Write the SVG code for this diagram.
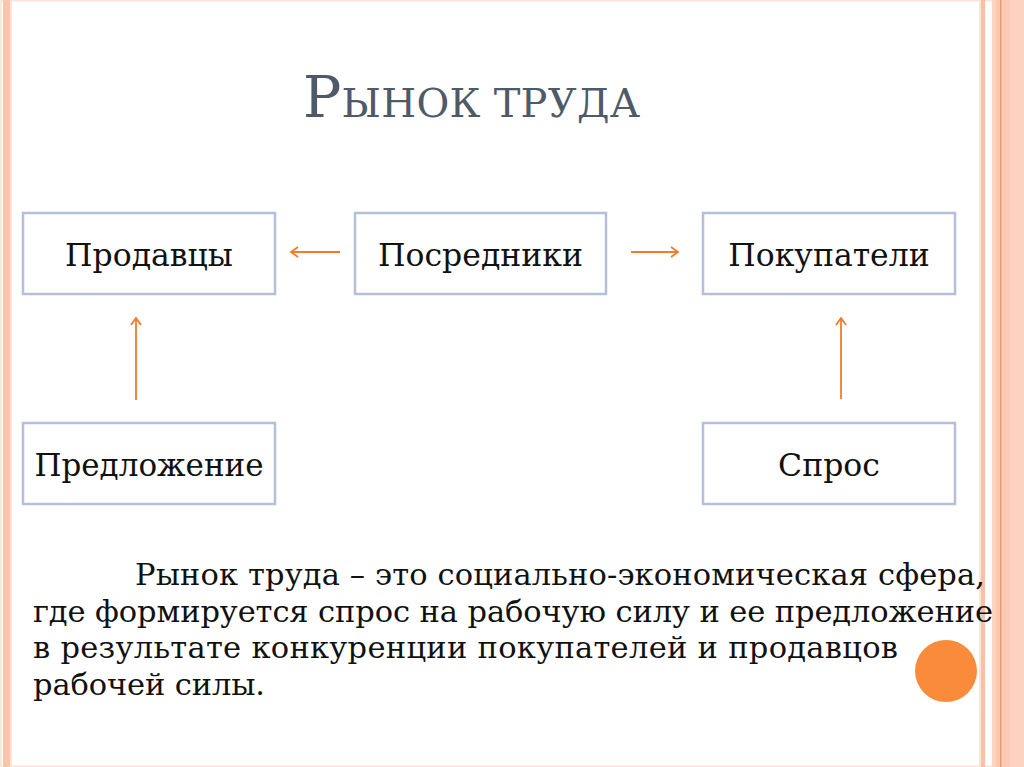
<svg xmlns="http://www.w3.org/2000/svg" width="1024" height="767" viewBox="0 0 1024 767">
<style>
.box{fill:#ffffff;stroke:#b4c0da;stroke-width:2.5}
.lbl{font-family:"DejaVu Serif","Liberation Serif",serif;font-size:31.5px;fill:#111111;text-anchor:middle}
.body{font-family:"DejaVu Serif","Liberation Serif",serif;font-size:30.5px;fill:#111111}
.title{font-family:"DejaVu Serif","Liberation Serif",serif;fill:#4f5a68}
.conn{stroke:#f47b2a;stroke-width:1.8;fill:none}
</style>
<defs>
<marker id="ah" markerWidth="12" markerHeight="12" refX="9" refY="6" orient="auto" markerUnits="userSpaceOnUse">
<path d="M2,1 L9,6 L2,11" fill="none" stroke="#f47b2a" stroke-width="1.8"/>
</marker>
</defs>
<rect x="0" y="0" width="1024" height="767" fill="#ffffff"/>
<g id="frame">
<rect x="0" y="0" width="1024" height="1.5" fill="#fde3d8"/>
<rect x="0" y="765.5" width="1024" height="1.5" fill="#fde3d8"/>
<rect x="0" y="0" width="2" height="767" fill="#fde6dc"/>
<rect x="3" y="0" width="7" height="767" fill="#fcc3ad"/>
<rect x="10" y="0" width="2" height="767" fill="#fde3d8"/>
<rect x="979" y="0" width="2" height="767" fill="#fde3d8"/>
<rect x="981" y="0" width="4" height="767" fill="#fbbfa6"/>
<rect x="992" y="0" width="32" height="767" fill="#fdd2c1"/>
<rect x="996" y="0" width="4" height="767" fill="#fcc7b1"/>
<rect x="1000" y="0" width="1.5" height="767" fill="#ef9a6c"/>
<rect x="1003" y="0" width="7" height="767" fill="#fcc9b4"/>
</g>
<g id="title">
<text class="title" x="303" y="117" textLength="337"><tspan font-size="57">Р</tspan><tspan font-size="40">ЫНОК ТРУДА</tspan></text>
</g>
<g id="connectors">
<line class="conn" x1="340" y1="252" x2="291" y2="252" marker-end="url(#ah)"/>
<line class="conn" x1="631" y1="252" x2="678" y2="252" marker-end="url(#ah)"/>
<line class="conn" x1="136" y1="400" x2="136" y2="318" marker-end="url(#ah)"/>
<line class="conn" x1="841" y1="399" x2="841" y2="318" marker-end="url(#ah)"/>
</g>
<g id="node-prodavtsy">
<rect class="box" x="23" y="213" width="252" height="81"/>
<text class="lbl" x="149" y="266">Продавцы</text>
</g>
<g id="node-posredniki">
<rect class="box" x="355" y="213" width="251" height="81"/>
<text class="lbl" x="480.5" y="266">Посредники</text>
</g>
<g id="node-pokupateli">
<rect class="box" x="703" y="213" width="252" height="81"/>
<text class="lbl" x="829" y="266">Покупатели</text>
</g>
<g id="node-predlozhenie">
<rect class="box" x="23" y="423" width="252" height="81"/>
<text class="lbl" x="149" y="476" style="font-size:31px">Предложение</text>
</g>
<g id="node-spros">
<rect class="box" x="703" y="423" width="252" height="81"/>
<text class="lbl" x="829" y="476">Спрос</text>
</g>
<g id="paragraph">
<text class="body" x="135" y="585" textLength="850">Рынок труда – это социально-экономическая сфера,</text>
<text class="body" x="33" y="622" textLength="960">где формируется спрос на рабочую силу и ее предложение</text>
<text class="body" x="33" y="658" textLength="865">в результате конкуренции покупателей и продавцов</text>
<text class="body" x="33" y="695" textLength="232">рабочей силы.</text>
</g>
<circle id="dot" cx="946" cy="671" r="31" fill="#f98b3a"/>
</svg>
